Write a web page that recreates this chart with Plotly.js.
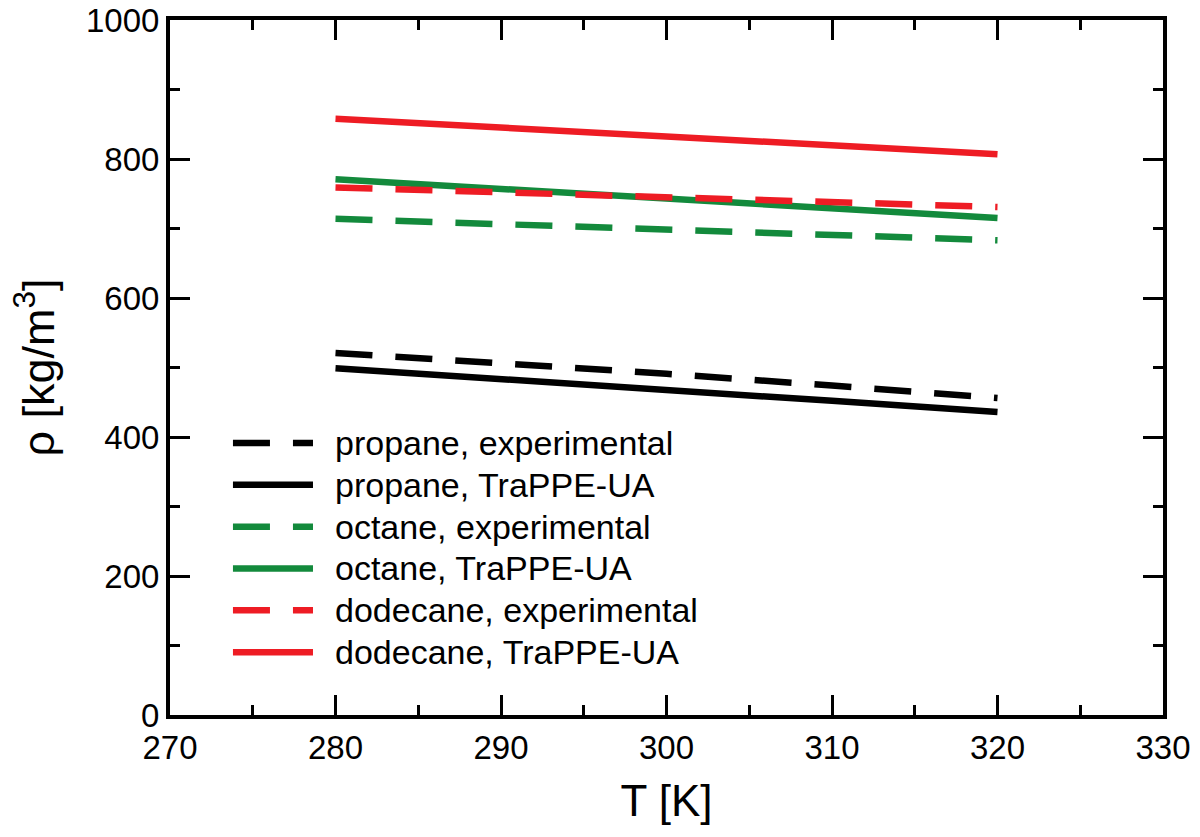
<!DOCTYPE html>
<html>
<head>
<meta charset="utf-8">
<script src="https://cdn.plot.ly/plotly-3.0.1.min.js"></script>
<style>html,body{margin:0;padding:0;background:#fff;}#chart{width:1200px;height:837px;}</style>
</head>
<body>
<div id="chart"></div>
<script>
const temperature = [280, 290, 300, 310, 320];
const propaneExp = [521, 507, 491, 474, 456];
const propaneTrappe = [499, 484, 468, 452, 436];
const octaneExp = [714, 706, 699, 691, 683];
const octaneTrappe = [771, 757, 743, 729, 715];
const dodecaneExp = [759, 752, 745, 738, 731];
const dodecaneTrappe = [858, 845, 833, 820, 807];
const seriesNames = [
  "propane, experimental", "propane, TraPPE-UA",
  "octane, experimental", "octane, TraPPE-UA",
  "dodecane, experimental", "dodecane, TraPPE-UA"
];
const seriesValues = [propaneExp, propaneTrappe, octaneExp, octaneTrappe, dodecaneExp, dodecaneTrappe];
const colors = ["#000000", "#000000", "#138a3c", "#138a3c", "#ee1c24", "#ee1c24"];
const dashes = ["37px,23px", "solid", "37px,23px", "solid", "37px,23px", "solid"];

const FONT = "Liberation Sans, Arial, Helvetica, sans-serif";
const LW = 6.5;
const traces = seriesValues.map((vals, i) => ({
  x: temperature, y: vals, type: "scatter", mode: "lines",
  name: seriesNames[i], showlegend: false,
  line: {color: colors[i], width: LW, dash: dashes[i]}
}));

// Hand-drawn legend (layout only, in paper coordinates)
const legX0 = 0.0634, legX1 = 0.144, legTextX = 0.164;
const legTop = 0.3914, legStep = 0.0602;
const shapes = [], annotations = [];
seriesNames.forEach((name, i) => {
  const yy = legTop - i * legStep;
  shapes.push({type: "line", xref: "paper", yref: "paper", x0: legX0, x1: legX1, y0: yy, y1: yy,
    line: {color: colors[i], width: LW, dash: dashes[i]}});
  annotations.push({xref: "paper", yref: "paper", x: legTextX, y: yy, xanchor: "left", yanchor: "middle",
    text: name, showarrow: false, font: {family: FONT, size: 34, color: "#000"}});
});

const axisCommon = {
  showgrid: false, zeroline: false, showline: true, linecolor: "#000", linewidth: 4,
  mirror: "ticks", ticks: "inside", ticklen: 20, tickwidth: 3, tickcolor: "#000",
  tickfont: {family: FONT, size: 33, color: "#000"}
};

const layout = {
  width: 1200, height: 837,
  margin: {l: 170, r: 37, t: 20, b: 122},
  paper_bgcolor: "#fff", plot_bgcolor: "#fff",
  font: {family: FONT, color: "#000"},
  showlegend: false,
  shapes: shapes,
  annotations: annotations,
  xaxis: Object.assign({}, axisCommon, {
    range: [270, 330], dtick: 10, tick0: 270,
    minor: {dtick: 5, ticks: "inside", ticklen: 10, tickwidth: 3, tickcolor: "#000", showgrid: false},
    title: {text: "T [K]", font: {family: FONT, size: 44, color: "#000"}, standoff: 22}
  }),
  yaxis: Object.assign({}, axisCommon, {
    range: [0, 1000], dtick: 200, tick0: 0,
    minor: {dtick: 100, ticks: "inside", ticklen: 10, tickwidth: 3, tickcolor: "#000", showgrid: false},
    title: {text: "ρ [kg/m<sup>3</sup>]", font: {family: FONT, size: 45, color: "#000"}, standoff: 18}
  })
};

Plotly.newPlot("chart", traces, layout, {displayModeBar: false, staticPlot: true});
</script>
</body>
</html>
